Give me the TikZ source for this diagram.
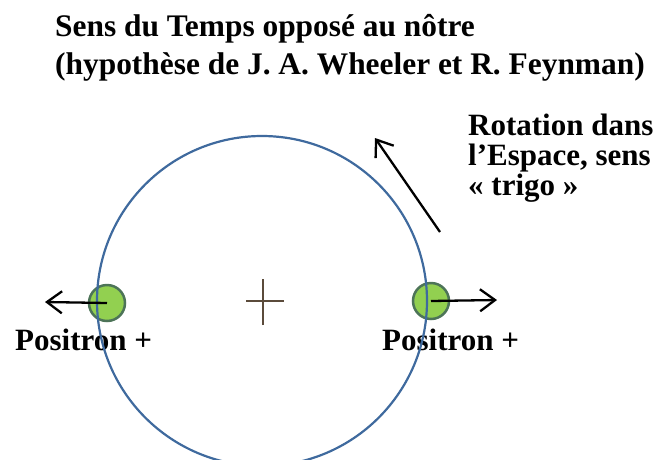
\documentclass[tikz,border=0pt]{standalone}
\usepackage{fontspec}
\setmainfont{Liberation Serif}
\usetikzlibrary{arrows.meta}
\definecolor{ringblue}{HTML}{3F6A9E}
\definecolor{ballgreen}{HTML}{92D050}
\definecolor{balledge}{HTML}{4D7458}
\definecolor{crossc}{HTML}{5B4B3B}
\tikzset{
  txt/.style={font=\bfseries\fontsize{31}{37}\selectfont, inner sep=0pt, anchor=base west, align=left},
  ball/.style={circle, minimum size=36pt, inner sep=0pt, fill=ballgreen, draw=balledge, line width=2.5pt},
  blackarrow/.style={draw=black, line width=2.3pt, -{Straight Barb[length=15pt,width=22pt,line width=2.3pt]}},
}
\begin{document}
\begin{tikzpicture}[x=1pt,y=-1pt]
\useasboundingbox (0,0) rectangle (662,459);
% title
\node[txt, font=\bfseries\fontsize{31.4}{38}\selectfont] (title) at (55,74) {Sens du Temps oppos\'e au n\^otre\\(hypoth\`ese de J. A. Wheeler et R. Feynman)};
% rotation text
\node[txt, font=\bfseries\fontsize{31}{30}\selectfont] (rot) at (468,195) {Rotation dans\\l’Espace, sens\\« trigo »};
% labels
\node[txt] (lpos) at (15,350) {Positron +};
\node[txt] (rpos) at (382,350) {Positron +};
% balls
\node[ball] (lb) at (107,303) {};
\node[ball] (rb) at (431,301) {};
% ring
\node[circle, draw=ringblue, line width=2.2pt, minimum size=330pt, inner sep=0pt] (ring) at (262,301) {};
% centre cross
\coordinate (c) at (263,301);
\draw[crossc, line width=1.3pt] ([xshift=-17pt]c) -- ([xshift=21pt]c) ([yshift=-24pt]c) -- ([yshift=22pt]c);
% arrows
\coordinate (la) at (45,302);
\coordinate (ra) at (497,300);
\coordinate (rs) at (440,232);
\coordinate (re) at (375,138);
\draw[blackarrow] (lb.center) -- (la);
\draw[blackarrow] (rb.center) -- (ra);
\draw[blackarrow] (rs) -- (re);
\end{tikzpicture}
\end{document}
